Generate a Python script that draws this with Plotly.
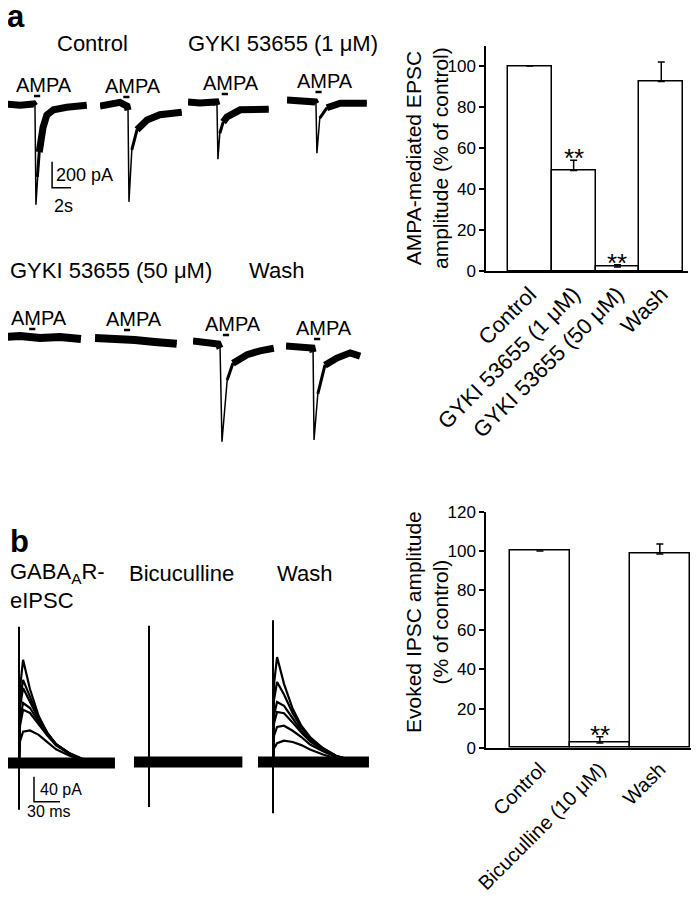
import numpy as np
import plotly.graph_objects as go

# the page body adds an 8 px margin, so the figure is shifted by that much
OFF = 8
W, H = 700 - OFF, 899 - OFF
FONT = "Arial, Liberation Sans, sans-serif"

# ---- panel a traces: AMPA-evoked currents (time in s, current in pA) ----
EPSC_T = [
    [0, 1.5, 2.9, 3.05, 3.15, 3.3, 3.5, 3.9, 4.3, 5.0, 6.4, 8.5],
    [0, 1.25, 2.1, 2.85, 2.95, 3.05, 3.35, 3.9, 4.95, 6.3, 8.6],
    [0, 1.25, 2.95, 3.05, 3.15, 3.35, 3.7, 4.1, 5.5, 7.0, 8.5],
    [0, 1.35, 2.95, 3.05, 3.15, 3.45, 4.2, 5.6, 8.4],
    [0, 1.7, 3.8, 5.9, 8.1],
    [0, 2.1, 4.2, 6.3, 8.6],
    [0, 1.25, 2.65, 2.85, 3.05, 3.6, 4.2, 4.95, 5.7, 7.05, 8.5],
    [0, 1.45, 2.75, 2.85, 2.95, 3.35, 4.1, 5.35, 6.75, 7.8],
]
EPSC_I = [
    [0, -10, 0, -15, -775, -560, -370, -180, -85, -45, -25, -10],
    [-8, 8, 20, -8, -40, -745, -345, -190, -115, -75, -55],
    [0, -8, 0, -25, -440, -240, -155, -115, -60, -55, -55],
    [0, -8, -15, -30, -410, -140, -60, -25, -25],
    [0, 8, -8, 0, -15],
    [0, 0, -15, -30, -45],
    [15, 8, -8, -40, -760, -285, -155, -115, -90, -60, -40],
    [8, 0, -8, -40, -715, -360, -140, -85, -45, -70],
]
AMPA_START = [2.95, 2.45, 3.55, 3.0, 2.65, 3.05, 3.15, 2.95]
AMPA_DUR = 0.65

# ---- panel b traces: evoked GABA-A IPSCs (time in ms, current in pA) ----
IPSC_T = [17.3, 18.5, 22, 30, 40, 50, 60, 75, 90, 110, 128]
IPSC_CONTROL = [
    [0, 120, 165, 118, 75, 48, 30, 15, 6, 0, 0],
    [0, 100, 133, 105, 72, 48, 30, 15, 6, 0, 0],
    [0, 90, 120, 98, 70, 47, 30, 16, 6, 0, 0],
    [0, 70, 96, 88, 66, 45, 30, 16, 7, 0, 0],
    [0, 60, 85, 80, 62, 44, 28, 15, 6, 0, 0],
    [0, 35, 50, 52, 45, 34, 22, 12, 5, 0, 0],
]
IPSC_BICUCULLINE = []
IPSC_WASH = [
    [0, 125, 168, 125, 85, 58, 40, 22, 10, 2, 0],
    [0, 100, 128, 108, 78, 55, 38, 22, 10, 2, 0],
    [0, 75, 96, 90, 70, 50, 35, 20, 9, 2, 0],
    [0, 62, 80, 78, 63, 47, 33, 19, 9, 2, 0],
    [0, 42, 56, 58, 50, 40, 28, 17, 8, 2, 0],
    [0, 22, 30, 34, 32, 27, 20, 12, 6, 2, 0],
]
SWEEP_MS = [128, 125, 128]
ARTIFACT_MS = 17.3
ARTIFACT_PA = [[218, -75], [218, -72], [227, -82]]

# ---- bar charts ----
EPSC_CATS = ["Control", "GYKI 53655 (1 μM)", "GYKI 53655 (50 μM)", "Wash"]
EPSC_MEAN = [100, 49, 2, 92.5]
EPSC_SEM = [None, 5, 1, 9.5]
IPSC_CATS = ["Control", "Bicuculline (10 μM)", "Wash"]
IPSC_MEAN = [100, 2.5, 98.5]
IPSC_SEM = [None, 3.2, 5]

# pixel placement of each sweep (left edge, baseline)
EPSC_POS = [(6, 104), (100, 105), (188, 102), (287, 100),
            (4, 337), (95, 338), (193, 343), (286, 347)]
IPSC_POS = [(4, 763), (134, 762), (258, 762)]
EPSC_PX_S, EPSC_PX_PA = 9.5, 0.13
IPSC_PX_MS, IPSC_PX_PA = 0.867, 0.625

layout = dict(width=W, height=H, margin=dict(l=0, r=0, t=0, b=0, pad=0, autoexpand=False),
              paper_bgcolor="white", plot_bgcolor="white", showlegend=False,
              font=dict(family=FONT, color="black"), bargap=0)
traces = []
annotations = []


def sfx(n):
    return "" if n == 1 else str(n)


def fx(px):
    return (px - OFF) / W


def fy(px):
    return 1 - (px - OFF) / H


def add_axes(n, left, right, top, bottom, xr, yr):
    s = sfx(n)
    xr = list(xr)
    if left < OFF:  # part hidden by the page margin: clip the range instead
        xr[0] += (OFF - left) * (xr[1] - xr[0]) / (right - left)
        left = OFF
    layout["xaxis" + s] = dict(domain=[fx(left), fx(right)], range=xr, anchor="y" + s,
                               visible=False, fixedrange=True, automargin=False)
    layout["yaxis" + s] = dict(domain=[fy(bottom), fy(top)], range=yr,
                               anchor="x" + s, visible=False, fixedrange=True,
                               automargin=False)


def line(n, x, y, width):
    s = sfx(n)
    traces.append(go.Scatter(x=x, y=y, xaxis="x" + s, yaxis="y" + s, mode="lines",
                             line=dict(color="black", width=width), hoverinfo="skip"))


def text(txt, x, y, size, xanchor="center", yanchor="middle", ref=None, **kw):
    if ref is None:
        a = dict(xref="paper", yref="paper", x=fx(x), y=fy(y))
    else:
        a = dict(xref="x" + sfx(ref), yref="y" + sfx(ref), x=x, y=y)
    a.update(text=txt, showarrow=False, xanchor=xanchor, yanchor=yanchor,
             font=dict(size=size, family=FONT, color="black"), **kw)
    annotations.append(a)


# panel a sweeps
for k, (t, cur) in enumerate(zip(EPSC_T, EPSC_I)):
    n = k + 1
    x0, base = EPSC_POS[k]
    add_axes(n, x0, x0 + 9 * EPSC_PX_S, base - 200 * EPSC_PX_PA, base + 800 * EPSC_PX_PA,
             [0, 9], [-800, 200])
    t = np.array(t, float)
    cur = np.array(cur, float)
    p = int(np.argmin(cur))
    line(n, t, cur, 1.5)
    if cur[p] < -100:
        line(n, t[:p], cur[:p], 7)
        line(n, t[p + 2:], cur[p + 2:], 7)
        line(n, t[p + 1:p + 3], cur[p + 1:p + 3], 3)
    else:
        line(n, t, cur, 8)
    a0 = AMPA_START[k]
    line(n, [a0, a0 + AMPA_DUR], [62, 62], 2.5)
    text("AMPA", a0 + AMPA_DUR / 2 + 0.7, 145, 20, ref=n)

# scale bar panel a (in sweep 1 units)
line(1, [4.85, 4.85, 6.85], [-445, -645, -645], 1.5)
text("200 pA", 5.05, -545, 18, xanchor="left", ref=1)
text("2s", 4.85, -690, 18, xanchor="left", yanchor="top", ref=1)

# panel b sweeps
groups = [IPSC_CONTROL, IPSC_BICUCULLINE, IPSC_WASH]
for g, sweeps in enumerate(groups):
    n = 9 + g
    x0, base = IPSC_POS[g]
    add_axes(n, x0, x0 + 128 * IPSC_PX_MS, base - 240 * IPSC_PX_PA, base + 100 * IPSC_PX_PA,
             [0, 128], [-100, 240])
    line(n, [0, SWEEP_MS[g]], [0, 0], 11)
    for cur in sweeps:
        line(n, IPSC_T, cur, 2.2)
    line(n, [ARTIFACT_MS, ARTIFACT_MS], ARTIFACT_PA[g], 2)

line(9, [34.6, 34.6, 64.6], [-22, -62, -62], 1.5)
text("40 pA", 39, -42, 16, xanchor="left", ref=9)
text("30 ms", 52, -77, 16, ref=9)

# bar charts
bar_style = dict(marker=dict(color="white", line=dict(color="black", width=1.5)),
                 hoverinfo="skip")
err = dict(type="data", symmetric=False, color="black", thickness=1.5, width=3.5)
traces.append(go.Bar(x=EPSC_CATS, y=EPSC_MEAN, xaxis="x12", yaxis="y12",
                     error_y=dict(err, array=EPSC_SEM, arrayminus=[0] * 4), **bar_style))
traces.append(go.Bar(x=IPSC_CATS, y=IPSC_MEAN, xaxis="x13", yaxis="y13",
                     error_y=dict(err, array=IPSC_SEM, arrayminus=[0] * 3), **bar_style))

xax = dict(visible=True, type="category", showline=True, linecolor="black", linewidth=1.5,
           ticks="", tickangle=-45, showgrid=False, fixedrange=True, automargin=False)
yax = dict(visible=True, showline=True, linecolor="black", linewidth=1.5, ticks="outside",
           ticklen=5, tickwidth=1.5, tickcolor="black", tickfont=dict(size=17),
           showgrid=False, zeroline=False, fixedrange=True, automargin=False)
layout["xaxis12"] = dict(xax, domain=[fx(486), fx(688)], range=[-1.0, 3.61], anchor="y12",
                         tickfont=dict(size=22))
layout["yaxis12"] = dict(yax, domain=[fy(271), fy(45.5)], range=[0, 110],
                         tickvals=[0, 20, 40, 60, 80, 100], anchor="x12")
layout["xaxis13"] = dict(xax, domain=[fx(486), fx(691)], range=[-0.9, 2.52], anchor="y13",
                         tickfont=dict(size=20))
layout["yaxis13"] = dict(yax, domain=[fy(748), fy(511.6)], range=[0, 120],
                         tickvals=[0, 20, 40, 60, 80, 100, 120], anchor="x13")

text("**", EPSC_CATS[1], 55, 26, ref=12)
text("**", EPSC_CATS[2], 3.7, 26, ref=12)
text("**", IPSC_CATS[1], 6.4, 26, ref=13)

text("AMPA-mediated EPSC<br>amplitude (% of control)", 427, 158, 21, textangle=-90)
text("Evoked IPSC amplitude<br>(% of control)", 427, 622, 21, textangle=-90)

# panel labels and condition titles
text("<b>a</b>", 16, 17, 31)
text("<b>b</b>", 19, 541, 31)
text("Control", 92, 43, 22)
text("GYKI 53655 (1 μM)", 186, 43, 22, xanchor="left")
text("GYKI 53655 (50 μM)", 8, 270, 22, xanchor="left")
text("Wash", 276, 270, 22)
text("GABA<sub>A</sub>R-<br>eIPSC", 8, 586, 22, xanchor="left", align="left")
text("Bicuculline", 181, 573, 22)
text("Wash", 304, 573, 22)

layout["annotations"] = annotations
fig = go.Figure(data=traces, layout=layout)
fig.write_html("out.html")
